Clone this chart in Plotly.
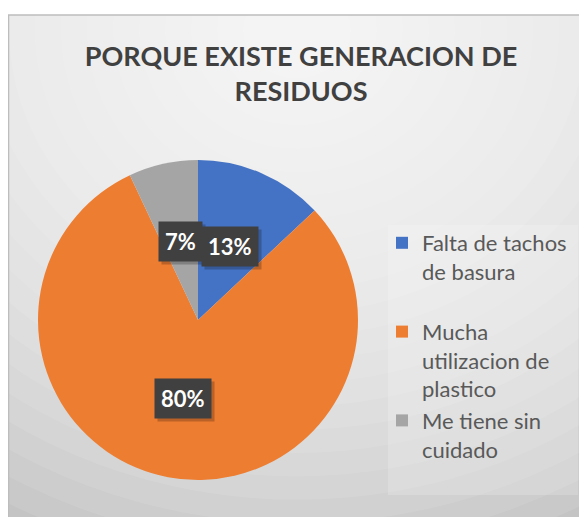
import math

import plotly.graph_objects as go

# data
categories = ["Falta de tachos de basura", "Mucha utilizacion de plastico", "Me tiene sin cuidado"]
values = [13, 80, 7]
legend_text = [
    "Falta de tachos<br>de basura<br>\u00a0",
    "Mucha<br>utilizacion de<br>plastico",
    "Me tiene sin<br>cuidado",
]
colors = ["#4472C4", "#ED7D31", "#A5A5A5"]

# the page body adds an 8px margin, so the figure is 8px smaller than the window
OFF = 8
W, H = 587 - OFF, 517 - OFF


def px_x(x):
    # reference-screen x pixel -> paper fraction
    return (x - OFF) / W


def px_y(y):
    # reference-screen y pixel (from top) -> paper fraction
    return 1 - (y - OFF) / H


cx, cy, R = 198, 320, 160  # pie centre / radius on screen
font = "Lato"

fig = go.Figure()

fig.add_trace(
    go.Pie(
        labels=legend_text,
        values=values,
        customdata=categories,
        sort=False,
        direction="clockwise",
        rotation=0,
        textinfo="none",
        hovertemplate="%{customdata}: %{percent}<extra></extra>",
        marker=dict(colors=colors, line=dict(width=0)),
        domain=dict(x=[px_x(cx - R), px_x(cx + R)], y=[px_y(cy + R), px_y(cy - R)]),
    )
)

# background: grey chart area with a soft radial highlight near the top
shapes = [
    dict(type="rect", xref="paper", yref="paper", x0=px_x(8), x1=1, y0=0, y1=px_y(15),
         fillcolor="#c4c4c4", line=dict(width=0), layer="below"),
]
for i in range(22):
    r = 600 - i * 26
    shapes.append(
        dict(type="circle", xref="paper", yref="paper",
             xsizemode="pixel", ysizemode="pixel",
             xanchor=px_x(297), yanchor=px_y(30),
             x0=-r, x1=r, y0=-r * 0.9, y1=r * 0.9,
             fillcolor="white", opacity=0.09, line=dict(width=0), layer="below")
    )
shapes.append(
    dict(type="rect", xref="paper", yref="paper", x0=px_x(388), x1=px_x(578),
         y0=px_y(495), y1=px_y(225),
         fillcolor="rgba(255,255,255,0.18)", line=dict(width=0), layer="below")
)
shapes.append(
    dict(type="rect", xref="paper", yref="paper", x0=px_x(8.5), x1=1.01, y0=-0.01, y1=px_y(15),
         fillcolor="rgba(0,0,0,0)", line=dict(color="#bdbdbd", width=1.5), layer="below")
)

# percentage labels in dark boxes, halfway along each slice's middle angle
total = sum(values)
starts = [sum(values[:i]) for i in range(len(values))]
annotations = []
for i in reversed(range(len(values))):
    v = values[i]
    mid = (starts[i] + v / 2) / total * 2 * math.pi
    lx = cx + 0.5 * R * math.sin(mid)
    ly = cy - 0.5 * R * math.cos(mid)
    txt = f"{round(v / total * 100)}%"
    common = dict(x=px_x(lx), y=px_y(ly), xref="paper", yref="paper", text=txt,
                  showarrow=False, xanchor="center", yanchor="middle", borderpad=6)
    annotations.append(
        dict(common, xshift=3, yshift=-3, bgcolor="rgba(0,0,0,0.22)",
             font=dict(family=font, size=22, color="rgba(0,0,0,0)", weight="bold"))
    )
    annotations.append(
        dict(common, bgcolor="#404040",
             font=dict(family=font, size=22, color="white", weight="bold"))
    )

fig.update_layout(
    width=W,
    height=H,
    margin=dict(l=0, r=0, t=0, b=0),
    paper_bgcolor="white",
    plot_bgcolor="white",
    shapes=shapes,
    annotations=annotations,
    title=dict(
        text="PORQUE EXISTE GENERACION DE<br>RESIDUOS",
        x=px_x(301),
        xanchor="center",
        y=px_y(66),
        yanchor="top",
        yref="container",
        font=dict(family=font, size=27, color="#404040", weight="bold"),
    ),
    legend=dict(
        x=px_x(382),
        xanchor="left",
        y=px_y(222),
        yanchor="top",
        valign="top",
        bgcolor="rgba(0,0,0,0)",
        font=dict(family=font, size=22, color="#595959"),
    ),
)

fig.write_html("out.html")
